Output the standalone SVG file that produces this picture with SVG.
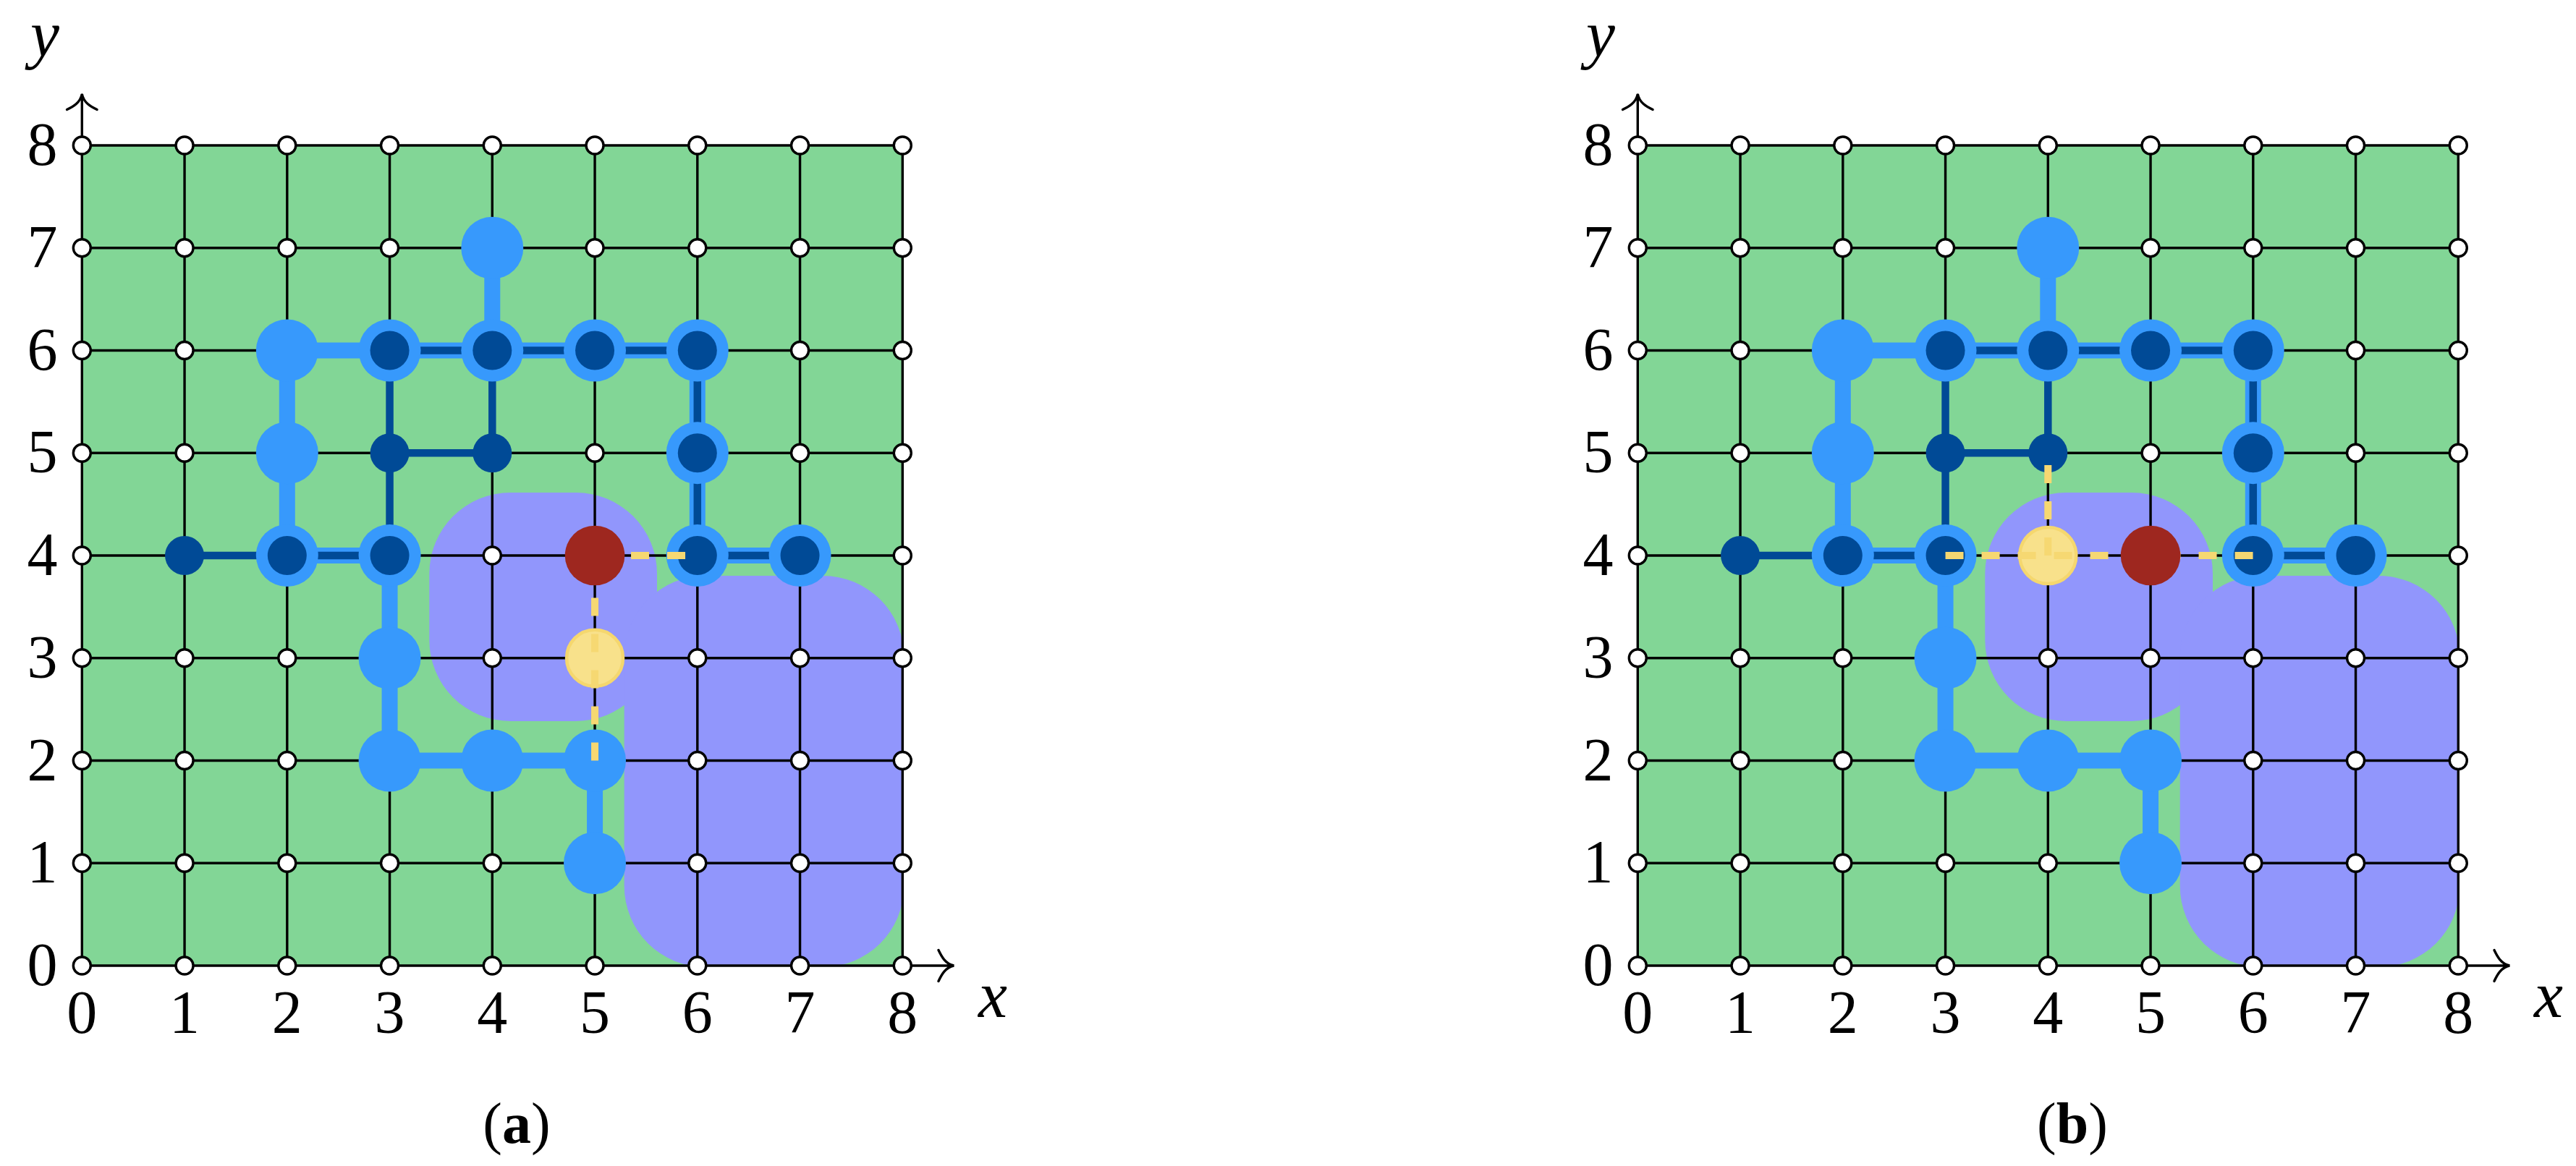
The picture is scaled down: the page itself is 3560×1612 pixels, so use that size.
<svg xmlns="http://www.w3.org/2000/svg" xmlns:xlink="http://www.w3.org/1999/xlink" width="3560" height="1612" viewBox="0 0 3560 1612">
<style>
.grid{stroke:#000;stroke-width:3.4;fill:none}
.ax{stroke:#000;stroke-width:3.4;fill:none;stroke-linecap:round}
.wc{fill:#fff;stroke:#000;stroke-width:3.4}
.lbl{font-family:"Liberation Serif","Times New Roman",serif;font-size:84px;text-anchor:middle;fill:#000}
.var{font-family:"Liberation Serif","Times New Roman",serif;font-size:90px;font-style:italic;text-anchor:middle;fill:#000}
.cap{font-family:"Liberation Serif","Times New Roman",serif;font-size:80px;text-anchor:middle;fill:#000}
.le{stroke:#3799FC;stroke-width:22;fill:none}
.de{stroke:#004A96;stroke-width:10.5;fill:none}
.ln{fill:#3799FC}
.dn{fill:#004A96}
.yn{fill:#F8E18B;stroke:#F5D76E;stroke-width:4.5}
.rn{fill:#9E271F}
.dash{stroke:#F6D872;stroke-width:10;fill:none;stroke-dasharray:25 25}
.obs{fill:#9196FC}
</style>
<defs>
<clipPath id="gclip"><rect x="113.3" y="201" width="1134" height="1134"/></clipPath>
<g id="wrow">
<circle class="wc" cx="113.3" cy="0" r="12"/><circle class="wc" cx="255.05" cy="0" r="12"/><circle class="wc" cx="396.8" cy="0" r="12"/><circle class="wc" cx="538.55" cy="0" r="12"/><circle class="wc" cx="680.3" cy="0" r="12"/><circle class="wc" cx="822.05" cy="0" r="12"/><circle class="wc" cx="963.8" cy="0" r="12"/><circle class="wc" cx="1105.55" cy="0" r="12"/><circle class="wc" cx="1247.3" cy="0" r="12"/>
</g>
<g id="base">
<rect x="113.3" y="201" width="1134" height="1134" fill="#82D696"/>
<g clip-path="url(#gclip)">
<rect class="obs" x="593.3" y="681" width="314.7" height="316" rx="112" ry="112"/>
<rect class="obs" x="862.7" y="796" width="386.6" height="541" rx="112" ry="112"/>
</g>
<path class="grid" d="M113.3 201V1335M255.05 201V1335M396.8 201V1335M538.55 201V1335M680.3 201V1335M822.05 201V1335M963.8 201V1335M1105.55 201V1335M1247.3 201V1335M113.3 201H1247.3M113.3 342.75H1247.3M113.3 484.5H1247.3M113.3 626.25H1247.3M113.3 768H1247.3M113.3 909.75H1247.3M113.3 1051.5H1247.3M113.3 1193.25H1247.3M113.3 1335H1247.3"/>
<path class="ax" d="M113.3 201V131M92.5 151.5C101 147.5 111 142 113.3 130C115.6 142 125.6 147.5 134.1 151.5"/>
<path class="ax" d="M1247.3 1335H1317M1297 1313.5C1301 1322 1306.5 1332.7 1318.3 1335C1306.5 1337.3 1301 1348 1297 1356.5"/>
<use xlink:href="#wrow" y="201"/><use xlink:href="#wrow" y="342.75"/><use xlink:href="#wrow" y="484.5"/><use xlink:href="#wrow" y="626.25"/><use xlink:href="#wrow" y="768"/><use xlink:href="#wrow" y="909.75"/><use xlink:href="#wrow" y="1051.5"/><use xlink:href="#wrow" y="1193.25"/><use xlink:href="#wrow" y="1335"/>
<text class="lbl" x="58.5" y="228">8</text><text class="lbl" x="58.5" y="369.75">7</text><text class="lbl" x="58.5" y="511.5">6</text><text class="lbl" x="58.5" y="653.25">5</text><text class="lbl" x="58.5" y="795">4</text><text class="lbl" x="58.5" y="936.75">3</text><text class="lbl" x="58.5" y="1078.5">2</text><text class="lbl" x="58.5" y="1220.25">1</text><text class="lbl" x="58.5" y="1362">0</text>
<text class="lbl" x="113.3" y="1428">0</text><text class="lbl" x="255.05" y="1428">1</text><text class="lbl" x="396.8" y="1428">2</text><text class="lbl" x="538.55" y="1428">3</text><text class="lbl" x="680.3" y="1428">4</text><text class="lbl" x="822.05" y="1428">5</text><text class="lbl" x="963.8" y="1428">6</text><text class="lbl" x="1105.55" y="1428">7</text><text class="lbl" x="1247.3" y="1428">8</text>
<text class="var" x="62" y="78">y</text>
<text class="var" x="1372" y="1406">x</text>
</g>
</defs>

<g id="panel-a">
<use xlink:href="#base"/>
<g id="a-connectors">
<path class="le" d="M680.3 342.75V484.5M396.8 484.5H963.8M396.8 484.5V768M963.8 484.5V768H1105.55M396.8 768H538.55V1051.5H822.05M822.05 1051.5V1193.25"/>
<path class="de" d="M538.55 484.5H963.8V768H1105.55M255.05 768H538.55M538.55 484.5V768M538.55 626.25H680.3V484.5"/>
</g>
<g id="a-n47"><circle class="ln" cx="680.3" cy="342.75" r="43"/></g>
<g id="a-n26"><circle class="ln" cx="396.8" cy="484.5" r="43"/></g>
<g id="a-n36"><circle class="ln" cx="538.55" cy="484.5" r="43"/><circle class="dn" cx="538.55" cy="484.5" r="27"/></g>
<g id="a-n46"><circle class="ln" cx="680.3" cy="484.5" r="43"/><circle class="dn" cx="680.3" cy="484.5" r="27"/></g>
<g id="a-n56"><circle class="ln" cx="822.05" cy="484.5" r="43"/><circle class="dn" cx="822.05" cy="484.5" r="27"/></g>
<g id="a-n66"><circle class="ln" cx="963.8" cy="484.5" r="43"/><circle class="dn" cx="963.8" cy="484.5" r="27"/></g>
<g id="a-n25"><circle class="ln" cx="396.8" cy="626.25" r="43"/></g>
<g id="a-n35"><circle class="dn" cx="538.55" cy="626.25" r="27"/></g>
<g id="a-n45"><circle class="dn" cx="680.3" cy="626.25" r="27"/></g>
<g id="a-n65"><circle class="ln" cx="963.8" cy="626.25" r="43"/><circle class="dn" cx="963.8" cy="626.25" r="27"/></g>
<g id="a-n14"><circle class="dn" cx="255.05" cy="768" r="27"/></g>
<g id="a-n24"><circle class="ln" cx="396.8" cy="768" r="43"/><circle class="dn" cx="396.8" cy="768" r="27"/></g>
<g id="a-n34"><circle class="ln" cx="538.55" cy="768" r="43"/><circle class="dn" cx="538.55" cy="768" r="27"/></g>
<g id="a-n64"><circle class="ln" cx="963.8" cy="768" r="43"/><circle class="dn" cx="963.8" cy="768" r="27"/></g>
<g id="a-n74"><circle class="ln" cx="1105.55" cy="768" r="43"/><circle class="dn" cx="1105.55" cy="768" r="27"/></g>
<g id="a-n33"><circle class="ln" cx="538.55" cy="909.75" r="43"/></g>
<g id="a-n32"><circle class="ln" cx="538.55" cy="1051.5" r="43"/></g>
<g id="a-n42"><circle class="ln" cx="680.3" cy="1051.5" r="43"/></g>
<g id="a-n52"><circle class="ln" cx="822.05" cy="1051.5" r="43"/></g>
<g id="a-n51"><circle class="ln" cx="822.05" cy="1193.25" r="43"/></g>
<g id="a-n53"><circle class="yn" cx="822.05" cy="909.75" r="39"/></g>
<g id="a-dashes"><path class="dash" d="M822.05 768H963.8M822.05 1051.5V768"/></g>
<g id="a-n54"><circle class="rn" cx="822.05" cy="768" r="41.3"/></g>
<text class="cap" x="714" y="1580">(<tspan font-weight="bold">a</tspan>)</text>
</g>

<g id="panel-b" transform="translate(2150,0)">
<use xlink:href="#base"/>
<g id="b-connectors">
<path class="le" d="M680.3 342.75V484.5M396.8 484.5H963.8M396.8 484.5V768M963.8 484.5V768H1105.55M396.8 768H538.55V1051.5H822.05M822.05 1051.5V1193.25"/>
<path class="de" d="M538.55 484.5H963.8V768H1105.55M255.05 768H538.55M538.55 484.5V768M538.55 626.25H680.3V484.5"/>
</g>
<g id="b-n47"><circle class="ln" cx="680.3" cy="342.75" r="43"/></g>
<g id="b-n26"><circle class="ln" cx="396.8" cy="484.5" r="43"/></g>
<g id="b-n36"><circle class="ln" cx="538.55" cy="484.5" r="43"/><circle class="dn" cx="538.55" cy="484.5" r="27"/></g>
<g id="b-n46"><circle class="ln" cx="680.3" cy="484.5" r="43"/><circle class="dn" cx="680.3" cy="484.5" r="27"/></g>
<g id="b-n56"><circle class="ln" cx="822.05" cy="484.5" r="43"/><circle class="dn" cx="822.05" cy="484.5" r="27"/></g>
<g id="b-n66"><circle class="ln" cx="963.8" cy="484.5" r="43"/><circle class="dn" cx="963.8" cy="484.5" r="27"/></g>
<g id="b-n25"><circle class="ln" cx="396.8" cy="626.25" r="43"/></g>
<g id="b-n35"><circle class="dn" cx="538.55" cy="626.25" r="27"/></g>
<g id="b-n45"><circle class="dn" cx="680.3" cy="626.25" r="27"/></g>
<g id="b-n65"><circle class="ln" cx="963.8" cy="626.25" r="43"/><circle class="dn" cx="963.8" cy="626.25" r="27"/></g>
<g id="b-n14"><circle class="dn" cx="255.05" cy="768" r="27"/></g>
<g id="b-n24"><circle class="ln" cx="396.8" cy="768" r="43"/><circle class="dn" cx="396.8" cy="768" r="27"/></g>
<g id="b-n34"><circle class="ln" cx="538.55" cy="768" r="43"/><circle class="dn" cx="538.55" cy="768" r="27"/></g>
<g id="b-n64"><circle class="ln" cx="963.8" cy="768" r="43"/><circle class="dn" cx="963.8" cy="768" r="27"/></g>
<g id="b-n74"><circle class="ln" cx="1105.55" cy="768" r="43"/><circle class="dn" cx="1105.55" cy="768" r="27"/></g>
<g id="b-n33"><circle class="ln" cx="538.55" cy="909.75" r="43"/></g>
<g id="b-n32"><circle class="ln" cx="538.55" cy="1051.5" r="43"/></g>
<g id="b-n42"><circle class="ln" cx="680.3" cy="1051.5" r="43"/></g>
<g id="b-n52"><circle class="ln" cx="822.05" cy="1051.5" r="43"/></g>
<g id="b-n51"><circle class="ln" cx="822.05" cy="1193.25" r="43"/></g>
<g id="b-n44"><circle class="yn" cx="680.3" cy="768" r="39"/></g>
<g id="b-dashes"><path class="dash" d="M538.55 768H963.8M680.3 768V626.25"/></g>
<g id="b-n54"><circle class="rn" cx="822.05" cy="768" r="41.3"/></g>
<text class="cap" x="714" y="1580">(<tspan font-weight="bold">b</tspan>)</text>
</g>
</svg>
